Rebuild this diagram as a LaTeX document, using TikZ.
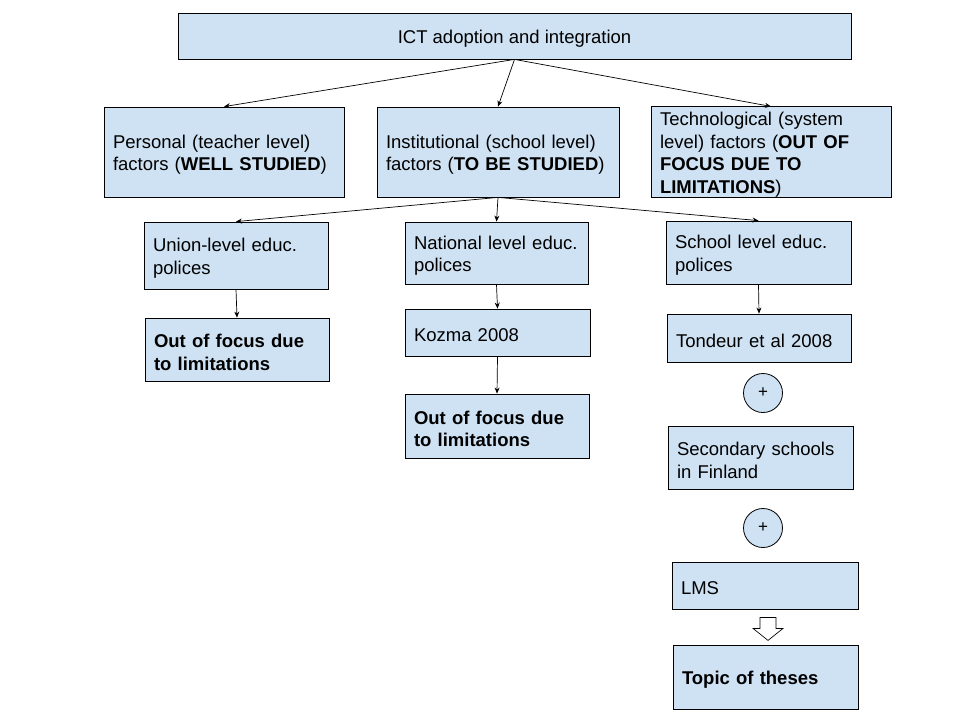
\documentclass[tikz,border=0pt]{standalone}
\usepackage{fontspec}
\setmainfont{Liberation Sans}
\usetikzlibrary{arrows.meta,calc}
\definecolor{boxfill}{HTML}{CFE2F3}
\begin{document}
\begin{tikzpicture}[x=1pt,y=-1pt,
  box/.style={draw=black, line width=0.8pt, fill=boxfill, rectangle, inner xsep=9pt, inner ysep=0pt, align=left, font=\fontsize{18.5}{22.5}\selectfont, execute at begin node={\rule{0pt}{19pt}}},
  plusnode/.style={draw=black, line width=0.8pt, fill=boxfill, circle, minimum size=39pt, inner sep=0pt, font=\fontsize{17}{17}\selectfont},
  conn/.style={line width=0.7pt, -{Stealth[length=6pt,width=5pt]}},
  hollow/.style={draw=black, line width=0.7pt, fill=white}
]
\useasboundingbox (0,0) rectangle (960,720);
\fill[white] (0,0) rectangle (960,720);

\node[box, align=center, minimum width=673pt, minimum height=46pt] (top) at (514.5,36) {ICT adoption and integration};

\node[box, text width=222pt, minimum height=90pt] (personal) at (224,152) {Personal (teacher level)\\factors (\textbf{WELL STUDIED})};
\node[box, text width=224pt, minimum height=90pt] (inst) at (498,152) {Institutional (school level)\\factors (\textbf{TO BE STUDIED})};
\node[box, text width=222pt, minimum height=90pt] (tech) at (771,152) {Technological (system\\level) factors (\textbf{OUT OF}\\\textbf{FOCUS DUE TO}\\\textbf{LIMITATIONS})};

\node[box, text width=166pt, minimum height=67pt] (union) at (236,255.5) {Union-level educ.\\polices};
\node[box, text width=165pt, minimum height=62pt] (national) at (496.5,253) {National level educ.\\polices};
\node[box, text width=167pt, minimum height=63pt] (school) at (758.5,252.5) {School level educ.\\polices};

\node[box, text width=166pt, minimum height=63pt] (out1) at (237,349.5) {\textbf{Out of focus due}\\\textbf{to limitations}};
\node[box, text width=167pt, minimum height=47pt] (kozma) at (497.5,332.5) {Kozma 2008};
\node[box, text width=166pt, minimum height=64pt] (out2) at (497,426) {\textbf{Out of focus due}\\\textbf{to limitations}};

\node[box, text width=166pt, minimum height=48pt] (tondeur) at (759,338) {Tondeur et al 2008};
\node[plusnode] (plus1) at (763,393) {+};
\node[box, text width=167pt, minimum height=63pt] (secondary) at (760.5,457.5) {Secondary schools\\in Finland};
\node[plusnode] (plus2) at (763,528) {+};
\node[box, text width=168pt, minimum height=47pt] (lms) at (765,585.5) {LMS};
\node[box, text width=167pt, minimum height=64pt] (topic) at (765.5,677) {\textbf{Topic of theses}};

\draw[conn] (top.south) -- (personal.north);
\draw[conn] (top.south) -- (inst.north);
\draw[conn] (top.south) -- (tech.north);

\draw[conn] (inst.south) -- (union.north);
\draw[conn] (inst.south) -- (national.north);
\draw[conn] (inst.south) -- (school.north);

\draw[conn] (union.south) -- (out1.north);
\draw[conn] (national.south) -- (kozma.north);
\draw[conn] (kozma.south) -- (out2.north);
\draw[conn] (school.south) -- (tondeur.north);

\begin{scope}[shift={(lms.south)}]
  \draw[hollow] (-5,8) -- (11,8) -- (11,19) -- (18,19) -- (3,31) -- (-12,19) -- (-5,19) -- cycle;
\end{scope}
\end{tikzpicture}
\end{document}
